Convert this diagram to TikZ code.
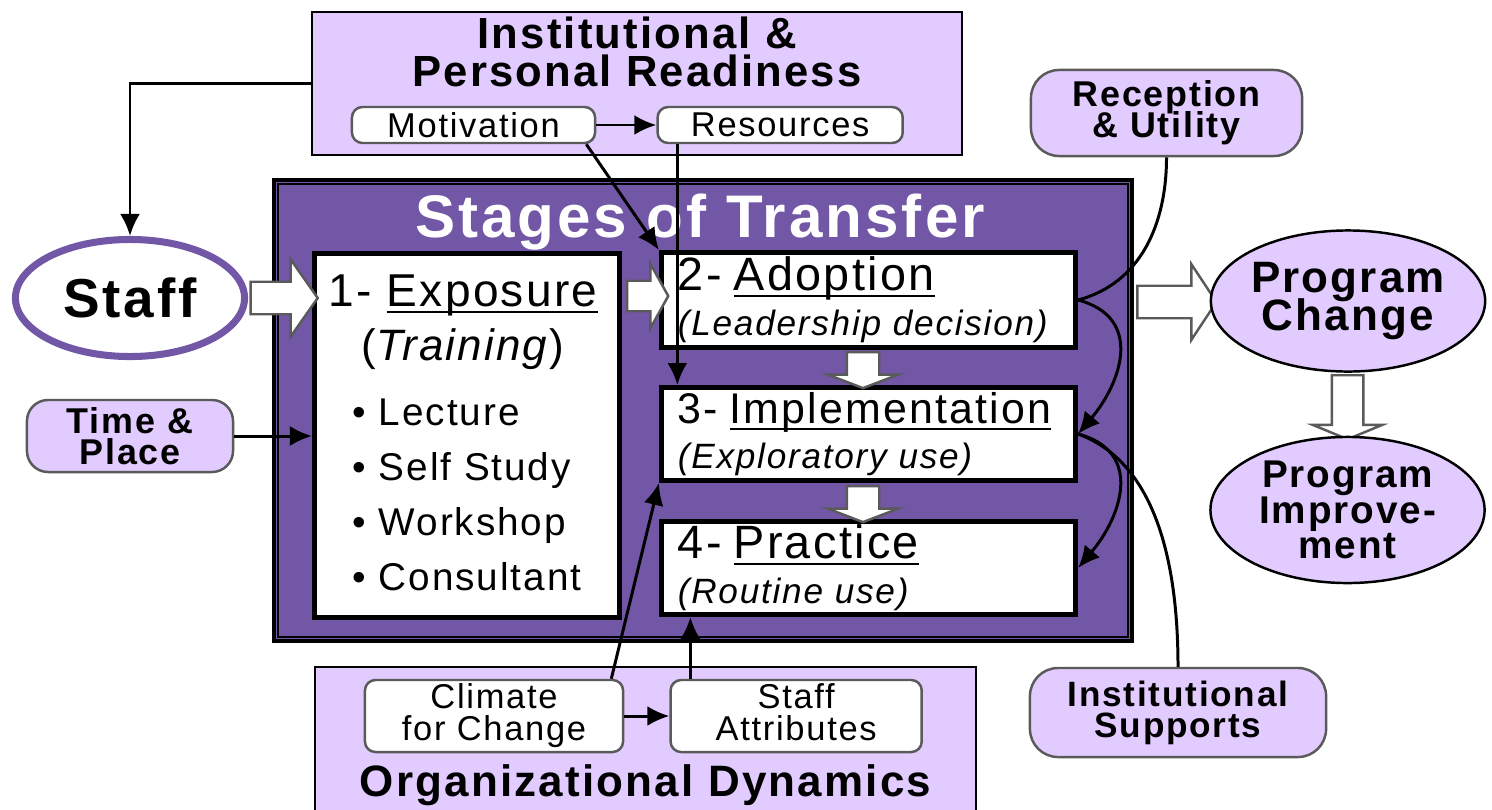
\documentclass[tikz,border=0pt]{standalone}
\usepackage{fontspec}
\setmainfont{Liberation Sans}[LetterSpace=5]
\usetikzlibrary{arrows.meta,positioning,calc,shapes.geometric,shapes.arrows}
\definecolor{stagepurple}{HTML}{7357A7}
\definecolor{lilac}{HTML}{E2CBFF}
\definecolor{rimgray}{HTML}{5A5A5A}
\lineskiplimit=-\maxdimen
% underline that sits just below the baseline
\newcommand{\ulword}[1]{\setbox0\hbox{#1}\rlap{\rule[-1.9pt]{\wd0}{0.6pt}}\box0}
\tikzset{
  panel/.style={
    draw=black,
    fill=lilac,
    line width=0.7pt,
    inner sep=0pt
  },
  tagbox/.style={
    rounded corners=3pt,
    draw=rimgray,
    fill=white,
    line width=0.7pt,
    inner sep=0pt,
    align=center,
    font=\fontsize{9.8}{9.1}\selectfont
  },
  factorbox/.style={
    rounded corners=6pt,
    draw=rimgray,
    fill=lilac,
    line width=0.7pt,
    inner sep=0pt,
    align=center,
    font=\bfseries\fontsize{10.2}{8.8}\selectfont
  },
  stagebox/.style={
    draw=black,
    fill=white,
    line width=1.4pt,
    inner sep=0pt
  },
  stagetext/.style={
    text width=3.81cm,
    inner xsep=0.165cm,
    align=left,
    font=\fontsize{10}{12.8}\selectfont
  },
  outcome/.style={
    ellipse,
    draw=black,
    fill=lilac,
    line width=0.7pt,
    inner sep=0pt,
    align=center
  },
  fatarrow/.style={
    single arrow,
    draw=rimgray,
    fill=white,
    line width=0.7pt,
    inner xsep=0pt,
    single arrow head indent=0pt
  },
  arrow/.style={
    -{Latex[length=2.2mm,width=2mm]},
    line width=0.85pt
  },
  link/.style={
    line width=0.85pt
  }
}

\begin{document}
\begin{tikzpicture}[x=0.01cm, y=0.01cm]
\useasboundingbox (0,0) rectangle (1492,-809);

% readiness panel on top
\node[panel, minimum width=6.5cm, minimum height=1.43cm] (ready) at (637,-83.5) {};
\node[font=\bfseries\fontsize{12.4}{11}\selectfont, align=center] (readytitle) at (637,-52) {Institutional \&\\Personal Readiness};
\node[tagbox, minimum width=2.43cm, minimum height=0.36cm] (motiv) at (473.5,-125) {Motivation};
\node[tagbox, minimum width=2.45cm, minimum height=0.36cm, right=0.6cm of motiv] (resrc) {Resources};

% organizational panel at the bottom
\node[panel, minimum width=6.61cm, minimum height=1.48cm] (orgdyn) at (645.5,-741) {};
\node[tagbox, minimum width=2.58cm, minimum height=0.72cm] (climate) at (494,-716) {Climate\\for Change};
\node[tagbox, minimum width=2.51cm, minimum height=0.72cm, right=0.45cm of climate] (attrib) {Staff\\Attributes\vphantom{g}};
\node[font=\bfseries\fontsize{12.5}{14}\selectfont] (orgtitle) at (645.5,-785) {Organizational Dynamics};

% stages frame
\node[draw=black, fill=stagepurple, line width=1.1pt, minimum width=8.58cm, minimum height=4.61cm, inner sep=0pt] (stages) at (703,-410.5) {};
\draw[line width=0.45pt] ($(stages.north west)+(6,-6)$) rectangle ($(stages.south east)+(-6,6)$);
\node[text=white, font=\bfseries\fontsize{17.1}{18}\selectfont, anchor=base] (stagetitle) at (700,-237) {Stages of Transfer};

% the four stages
\node[stagebox, minimum width=3.05cm, minimum height=3.64cm] (expo) at (467,-435.5) {};
\node[font=\fontsize{12.5}{15.4}\selectfont, align=center] (expotitle) at (463,-322) {{\fontsize{13.1}{15.4}\selectfont 1- \ulword{Exposure}}\\(\textit{Training})};
\node[anchor=west, inner sep=0pt, align=left, font=\fontsize{11}{15.6}\selectfont] (methods) at (352,-495) {\textbullet\ Lecture\\\textbullet\ Self Study\\\textbullet\ Workshop\\\textbullet\ Consultant};

\node[stagebox, stagetext, minimum width=4.14cm, minimum height=0.95cm] (adopt) at (868.5,-300) {{\fontsize{13.3}{12.8}\selectfont 2- \ulword{Adoption}}\\{\itshape (Leadership decision)}};
\node[stagebox, stagetext, minimum width=4.14cm, minimum height=0.93cm, below=0.35cm of adopt] (impl) {{\fontsize{12.2}{12.8}\selectfont 3- \ulword{Implementation}}\\{\itshape (Exploratory use)}};
\node[stagebox, stagetext, minimum width=4.14cm, minimum height=0.93cm, below=0.36cm of impl] (practice) {{\fontsize{13.3}{12.8}\selectfont 4- \ulword{Practice}}\\{\itshape (Routine use)}};

% block arrows
\node[fatarrow, inner ysep=0.15cm, minimum height=0.67cm, minimum width=0.75cm, single arrow head extend=0.225cm, single arrow tip angle=110] (stafftoexpo) at (278.5,-298) {};
\node[fatarrow, inner ysep=0.14cm, minimum height=0.41cm, minimum width=0.62cm, single arrow head extend=0.17cm, single arrow tip angle=122] (expotoadopt) at (643.5,-296) {};
\node[fatarrow, inner ysep=0.15cm, minimum height=0.36cm, minimum width=0.68cm, single arrow head extend=0.19cm, single arrow tip angle=138, rotate=-90] (adopttoimpl) at (863,-367) {};
\node[fatarrow, inner ysep=0.15cm, minimum height=0.36cm, minimum width=0.68cm, single arrow head extend=0.19cm, single arrow tip angle=138, rotate=-90] (impltoprac) at (863,-501) {};
\node[fatarrow, inner ysep=0.15cm, minimum height=0.79cm, minimum width=0.73cm, single arrow head extend=0.215cm, single arrow tip angle=113] (stagestochange) at (1171.5,-302) {};
\node[fatarrow, inner ysep=0.145cm, minimum height=0.64cm, minimum width=0.67cm, single arrow head extend=0.19cm, single arrow tip angle=135, rotate=-90] (changetoimprove) at (1347.5,-404) {};

% outside factors and outcomes
\node[ellipse, draw=stagepurple, fill=white, line width=2pt, minimum width=2.29cm, minimum height=1.17cm, inner sep=0pt, font=\bfseries\fontsize{15.6}{18}\selectfont] (staff) at (130,-298) {Staff};
\node[factorbox, minimum width=2.06cm, minimum height=0.72cm] (timeplace) at (130,-436) {Time \&\\Place};
\node[factorbox, rounded corners=8pt, minimum width=2.71cm, minimum height=0.86cm] (recep) at (1166.5,-113) {Reception\\\& Utility};
\node[factorbox, rounded corners=8pt, minimum width=2.96cm, minimum height=0.89cm, font=\bfseries\fontsize{10}{8.8}\selectfont] (supports) at (1178,-712.5) {Institutional\\Supports};
\node[outcome, minimum width=2.71cm, minimum height=1.41cm, font=\bfseries\fontsize{12.5}{11}\selectfont] (change) at (1348,-301) {Program\\Change};
\node[outcome, minimum width=2.74cm, minimum height=1.46cm, font=\bfseries\fontsize{11}{10}\selectfont] (improve) at (1347.5,-510) {Program\\Improve-\\ment};

% connectors
\coordinate (resfoot) at ([xshift=0.21cm]resrc.south west);
\coordinate (attrtop) at ([xshift=0.21cm]attrib.north west);
\draw[arrow] (ready.west) -- (ready.west -| staff.north) -- (staff.north);
\draw[arrow] (motiv) -- (resrc);
\draw[arrow] ([xshift=-0.1cm]motiv.south east) -- (adopt.north west);
\draw[arrow] (resfoot) -- (resfoot |- impl.north);
\draw[arrow] (timeplace.east) -- (timeplace.east -| expo.west);
\draw[arrow] (climate) -- (attrib);
\draw[arrow] ([xshift=-0.13cm]climate.north east) -- (impl.south west);
\draw[arrow] (attrtop) -- (attrtop |- practice.south);
\draw[link] (recep.south) to[out=-90, in=15] (adopt.east);
\draw[arrow] (adopt.east) to[out=-15, in=50, looseness=1.3] (impl.east);
\draw[arrow] (impl.east) to[out=-15, in=50, looseness=1.3] (practice.east);
\draw[link] (supports.north) to[out=90, in=-20, looseness=0.9] (impl.east);
\end{tikzpicture}
\end{document}
